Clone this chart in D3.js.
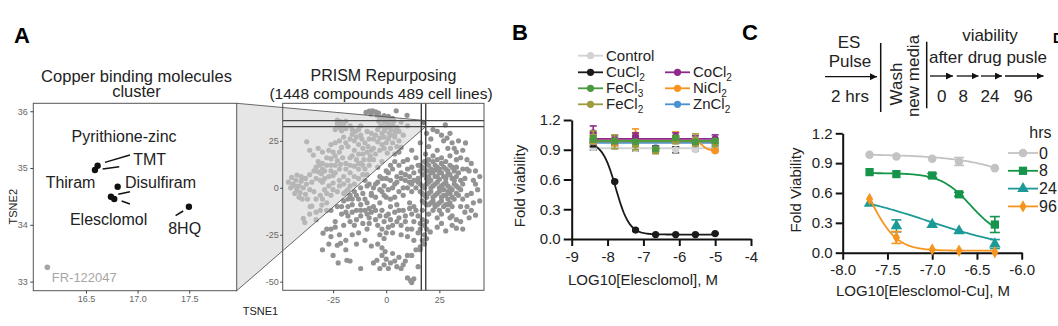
<!DOCTYPE html>
<html>
<head>
<meta charset="utf-8">
<script src="https://cdn.jsdelivr.net/npm/d3@7"></script>
<style>
  body { margin: 0; background: #fff; }
  svg { display: block; font-family: "Liberation Sans", Arial, Helvetica, sans-serif; }
</style>
</head>
<body>
<svg id="fig" width="1058" height="326"></svg>
<script>
// ---------- A: copper binding cluster (zoomed t-SNE) ----------
var cuNames = ["Pyrithione-zinc", "TMT", "Disulfiram", "Thiram", "Elesclomol", "8HQ", "FR-122047"];
var cuTsne1 = [16.613, 16.587, 16.807, 16.742, 16.774, 17.497, 16.126];
var cuTsne2 = [35.04, 34.965, 34.67, 34.495, 34.454, 34.319, 33.252];
var cuInCluster = [true, true, true, true, true, true, false];
var zoomTicksX = [16.5, 17.0, 17.5];
var zoomTicksY = [33, 34, 35, 36];

// ---------- A: PRISM repurposing t-SNE, [TSNE1, TSNE2] ----------
var prismEmbedding = [
  [-9.5,40.2],[-8,40.8],[-6.5,41],[-5,40.4],[-3.6,39.8],[-7.2,39.2],[-4.4,38.6],[4.7,41],[9.8,38.6],
  [-2,37.2],[0,36.6],[2,36.2],[-1,35],[1,34.2],[3,33.4],[-2.6,33],[0,32],[2.2,31],[1.4,29],[4,30.2],
  [-0.8,30.4],[3.6,35.6],[5,32],[-3.5,35.5],
  [-23,34],[-21.5,35.2],[-20,33.5],[-22,32],[-19,31.5],[-21,30.4],[-24,31],[-13,31],[-14.5,30],[-12,33],
  [-15,25],[-13,23],[-37.4,24.5],
  [-20,27],[-19,24],[-18,22],[-21,21.5],[-17,26],[-16,28.5],
  [-10,24],[-8.5,22],[-9,19],[-7.5,17],[-11,18],[-11.5,26],
  [-5,28],[-3,26.5],[-1,27],[-4,24.5],[0,24],[-2,23],[-6,21],[-3,20],
  [1,26],[3,24],[5,22],[2,21],[4,27],[6,25],[8,28],[7,21.5],[0.5,18.5],
  [-34.3,17.4],
  [-27,20],[-25,19],[-24,17],[-26,15.5],[-23,14.5],[-28,16],
  [-22,19],[-20.5,16],[-19,13],[-21.5,12.5],
  [-16,17],[-14,15],[-12,13],[-15,11.5],[-13,10],[-11,12],[-10.5,15],[-8,12],[-6,15],[-4,11],[-2,14],
  [-33,11],[-31.5,12],[-30,10],[-32,8.5],[-30.5,7.5],[-29,9],[-34,9],
  [-26,9],[-24,8],[-25,6.5],[-20,6],[-17,8],
  [-44,2],[-42.5,4],[-41,1],[-40,3.5],[-39,0],[-42,-1],[-40.5,-2.5],[-38,-3.5],[-43,-3],[-41,-5],
  [-37.5,2],[-45,0],[-44.5,5.5],[-42,6.8],[-39.5,-6],
  [-35.8,-10],[-34,-2],[-31,-4],[-29,-1],[-30,3],[-27,1],[-25,2.5],[-35,-9.8],[-30.3,-9.2],[-28,-8],
  [-39,-16.3],[-38.3,-18.5],[-33,-13],[-26,-4],[-23,-2],[-22,4],
  [-1,38.5],[1,38],[-3,37.5],[3,37],[2,33],[-1,32.5],[4,28],[6,30],[7,35],[10,33],[-21,33],[-23,36],
  [-19,35.5],[-17,33],[-16,31],[-12,28],[-14,27],[-8,26],[-6,26],[-7,29],[-9,30],[-2,29],[-4,31],[2,28],
  [6,19],[4,18],[-1,21],[-5,18],[-8,15],[-10,10],[-13,13],[-17,12],[-19,10],[-22,10],[-24,12],[-26,12],
  [-28,12],[-30,13],[-32,14],[-27,6],[-29,5],[-31,4],[-33,5],[-35,3],[-36,-1],[-37,-6],[-33,-6],[-30,-6],
  [-28,-3],[-25,-1],[-22,1],[-20,2],[-18,4],[-15,6],[-13,5],[-11,7],[-40,6],[-43,1],[-46,3],[-38,5],
  [-36,7],[-24,24],[-26,23],[-22,25],[-30,19],[-32,21],[-36,20],[-15,20],[-13,18],[-11,21],[-7,20],
  [-17,16],[-33,-17],[-36,-14],[-31,-12],[-28,-12],
  [16,12],[18,10],[20,12],[22,14],[24,11],[26,13],[28,10],[30,12],[32,9],
  [17,7],[19,5],[21,8],[23,6],[25,8],[27,6],[29,7],[31,5],[33,6],
  [16,2],[18,0],[20,3],[22,1],[24,3],[26,1],[28,3],[30,0],[32,2],[34,0],
  [17,-3],[19,-5],[21,-2],[23,-4],[25,-2],[27,-4],[29,-2],[31,-5],[33,-3],
  [18,-8],[20,-9],[22,-7],[24,-9],[26,-7],[28,-9],[30,-8],
  [19,9],[23,9.5],[27,2],[21,4],[25,4.5],[29,-6],[15,5],[14,0],[35,4],
  [17,11],[19,13],[21,10],[23,12],[25,10],[27,11],[29,9],[31,11],[33,11],
  [16,9],[18,7],[20,6],[22,8],[24,6],[26,8],[28,5],[30,7],[32,4],
  [15,3],[17,1],[19,2],[21,0],[23,2],[25,0],[27,-1],[29,1],[31,-1],[33,1],
  [16,-2],[18,-4],[20,-3],[22,-5],[24,-3],[26,-5],[28,-4],[30,-3],[32,-6],[34,-4],
  [17,-7],[19,-9],[21,-8],[23,-10],[25,-8],[27,-10],[29,-9],[31,-10],
  [20,15],[24,15],[28,14],[18,14],[35,-1],[36,2],[34,8],[36,10],[38,-4],
  [37,5],[40,-3],[42,2],[38,-10],[44,6],[36,-6],[41,-8],[39,9],[43,-1],
  [20,22],[24,20],[27,25],[30,17],[33,15],[22,17],[26,16],[29,21],[24,30],[27.8,33.5],[37.3,23.9],
  [28.6,26.5],[35,16],[38,10],[41,4],[31,24],[33,19],[18.5,18],[21,26],
  [19,29],[22,31],[26,28],[30,29],[34,25],[32,21],[36,20],[40,13],[42,9],[44,-7],[40,-12],[38,15],
  [1,8],[3,10],[5,6],[7,8],[9,4],[11,6],[4,2],[8,0],[12,2],[2,4],[6,12],[10,10],[13,8],[12,-2],[6,-2],[0,5],
  [12,20],[14,16],[15,12],[10,15],[16,24],
  [-9,1],[-5,2],[-3,-1],[-1,-4],[1,-1],[3,0],[5,3],[7,5],[9,7],[11,3],[13,4],[10,0],[8,-4],[4,-5],
  [-2,5],[0,9],[2,12],[4,14],[8,14],[12,11],
  [15,-15],[17,-17],[18,-20],[16,-22],[18,-25],[17,-28],[19,-18],[16,-19],[18,-30],[15,-24],[14,-12],
  [17,-12],[13,-18],[16,-33],[15,-42],[20.7,-23.5],[16,-31.5],
  [-19,-2],[-17,-4],[-15,-2],[-13,-6],[-11,-3],[-9,-8],[-16,-9],[-14,-12],[-12,-15],[-10,-12],[-8,-16],
  [-18,-10],[-7,-4],[-20,-7],[-6,-10],[-14,-17],[-15,2],[-12,0],[-17,1],
  [-18,-1],[-16,-6],[-14,-4],[-12,-9],[-10,-6],[-8,-11],[-16,-13],[-12,-12],[-18,-6],[-20,-3],[-21,-10],
  [-19,-13],[-17,-18],[-15,-20],[-11,-19],[-9,-14],
  [-10,4],[-8,2],[-6,0],[-4,3],[-2,-2],[-5,-5],[-3,-8],[-1,1],[-7,-3],[0,-5],[-9,7],[-3,6],
  [-5,-12],[-3,-15],[-1,-18],[1,-14],[3,-20],[-2,-22],[0,-24],[2,-10],[-4,-20],
  [-7,-13],[-5,-17],[-2,-12],[0,-15],[2,-17],[5,-18],[3,-24],[-1,-27],[1,-21],[-3,-25],[6,-12],[9,-15],
  [11,-11],[13,-10],[10,-26],[7,-25],
  [2,-6],[5,-9],[8,-12],[11,-8],[6,-16],[9,-18],[12,-14],[4,-13],[7,-20],[10,-22],
  [-29.7,-24.2],[-28,-22],[-23,-30.6],[-21.5,-29.6],[-19,-28],[-16,-25],[-13,-24],[-9,-22],[-8,-19],
  [-30,-33],[-22.6,-40],[-17,-39],[-12,-43],[-18.5,-38.6],[-24,-18],[-20,-20],[-26,-26],
  [-24,-21],[-26,-22],[-22,-25],[-19,-33],[-14,-30],[-10,-28],[-7,-31],[-4,-30],[-2,-32],[-27,-30],[-25,-36],
  [-4.4,-38.6],[-2,-36],[0,-38],[2,-40],[4,-39],[6,-37],[8,-41],[10,-36],[-1,-41],[3,-35],[-0.5,-34],
  [-6,-40],[5,-42],[1,-43],[7,-43],[-3,-43],[9,-39],[12,-36],[14,-33],[13,-28],[12,-22],
  [10,-48],[11.5,-49.5],[13,-48.5],[12,-50.5],
  [19,-22],[19,-27],[20,-14],[22,-12],[24,-21],[26,-19],[30,-16],[35,-18],[39,-16],[36,-22],
  [22,-8],[25,-12],[29,-12],[26,-14],[31,-15],[33,-17],[37,-13],[42,-14.6],[31,-20],[33,-21.5],
  [28,-23],[24,-16],[35,-10],
  [-26,-12],[-23,-10],[-21,-14],[-18,-15]
];
var cuClusterSpot = [17.6, 34.6];
var zoomBoxX = [16.5, 18.6];
var zoomBoxY = [32.6, 35.8];
var prismTicksX = [-25, 0, 25];
var prismTicksY = [-50, -25, 0, 25];

// ---------- B: elesclomol + metal salts ----------
var bDose = [-8.4, -7.8, -7.22, -6.66, -6.1, -5.55, -5.0];
var bControl = [0.92, 0.93, 0.91, 0.90, 0.90, 0.90, 0.90];
var bControlErr = [0.02, 0.01, 0.02, 0.01, 0.03, 0.01, 0.01];
var bCuCl2 = [0.97, 0.58, 0.09, 0.045, 0.045, 0.045, 0.055];
var bCuCl2Err = [0.04, 0.01, 0.01, 0.005, 0.005, 0.005, 0.005];
var bFeCl3 = [1.01, 0.99, 0.98, 0.91, 1.02, 0.98, 0.99];
var bFeCl3Err = [0.03, 0.02, 0.02, 0.02, 0.02, 0.02, 0.02];
var bFeCl2 = [1.03, 0.98, 0.95, 0.89, 1.00, 1.00, 0.97];
var bFeCl2Err = [0.06, 0.07, 0.05, 0.03, 0.04, 0.06, 0.04];
var bCoCl2 = [1.07, 1.00, 1.03, 0.91, 1.03, 1.00, 1.01];
var bCoCl2Err = [0.07, 0.04, 0.04, 0.03, 0.04, 0.04, 0.04];
var bNiCl2 = [1.00, 0.98, 1.05, 0.90, 1.03, 0.97, 0.89];
var bNiCl2Err = [0.04, 0.04, 0.06, 0.02, 0.05, 0.03, 0.01];
var bZnCl2 = [0.98, 0.97, 0.97, 0.92, 0.99, 0.96, 0.96];
var bZnCl2Err = [0.02, 0.02, 0.02, 0.02, 0.02, 0.02, 0.02];
// fitted curves: [top, bottom, logIC50, hill]
var bFits = {
  Control: [0.915, 0.915, -6, 1],
  CuCl2: [0.98, 0.045, -7.77, 2.3],
  FeCl3: [0.99, 0.99, -6, 1],
  FeCl2: [0.985, 0.985, -6, 1],
  CoCl2: [1.01, 1.01, -6, 1],
  NiCl2: [0.995, 0.89, -5.35, 5],
  ZnCl2: [0.97, 0.97, -6, 1]
};
var bTicksX = [-9, -8, -7, -6, -5, -4];
var bTicksY = [0, 0.3, 0.6, 0.9, 1.2];

// ---------- C: Elesclomol-Cu pulse ----------
var cDose = [-7.7, -7.4, -7.0, -6.7, -6.3];
var cHrs = ["0", "8", "24", "96"];
var c0h = [0.985, 0.967, 0.945, 0.917, 0.85];
var c0hErr = [0.01, 0.01, 0.01, 0.04, 0.01];
var c8h = [0.81, 0.79, 0.776, 0.587, 0.283];
var c8hErr = [0.01, 0.01, 0.02, 0.02, 0.08];
var c24h = [0.495, 0.27, 0.283, 0.22, 0.087];
var c24hErr = [0.01, 0.06, 0.01, 0.01, 0.045];
var c96h = [0.54, 0.153, 0.033, 0.02, 0.005];
var c96hErr = [0.01, 0.06, 0.01, 0.005, 0.005];
var cFits = [
  [0.99, 0, -5.5, 1],
  [0.8, 0.15, -6.57, 2.6],
  [0.64, 0, -7.05, 0.8],
  [1.0, 0.02, -7.68, 3]
];
var cTicksX = [-8, -7.5, -7, -6.5, -6];
var cTicksY = [0, 0.3, 0.6, 0.9, 1.2];
var pulseTimes = ["0", "8", "24", "96"];

var svg = d3.select("#fig");

function fourPL(p) {
  return function(x) { return p[1] + (p[0] - p[1]) / (1 + Math.pow(10, (x - p[2]) * p[3])); };
}

function panelLetter(t, x, y, size) {
  svg.append("text").attr("x", x).attr("y", y)
    .style("font-size", (size || 22) + "px").style("font-weight", "bold").text(t);
}

panelLetter("A", 14, 42.7);
panelLetter("B", 512, 40);
panelLetter("C", 742, 40);
panelLetter("D", 1053, 43, 14);

// ===== A, right: PRISM embedding =====
var xS = d3.scaleLinear().domain([-48.7, 46]).range([282.7, 484]);
var yS = d3.scaleLinear().domain([-54.6, 45]).range([290.3, 103.3]);
var xA = d3.scaleLinear().domain([15.99, 17.96]).range([33.3, 236.7]);
var yA = d3.scaleLinear().domain([32.84, 36.14]).range([290.7, 103.3]);

var gS = svg.append("g");
gS.append("rect").attr("x", 282.7).attr("y", 103.3).attr("width", 201.3).attr("height", 187)
  .attr("fill", "#fff");
gS.append("g").selectAll("circle").data(prismEmbedding).join("circle")
  .attr("cx", function(d) { return xS(d[0]); })
  .attr("cy", function(d) { return yS(d[1]); })
  .attr("r", 2.6)
  .attr("fill", "#939393");
gS.append("circle").attr("cx", xS(cuClusterSpot[0])).attr("cy", yS(cuClusterSpot[1]))
  .attr("r", 2.4).attr("fill", "#111");

// wedge linking the zoomed panel to its spot in the full map
var wedge = [
  [xA.range()[1], yA.range()[1]],
  [xS(zoomBoxX[1]), yS(zoomBoxY[1])],
  [xS(zoomBoxX[1]), yS(zoomBoxY[0])],
  [xA.range()[1], yA.range()[0]]
];
svg.append("path").attr("d", "M" + wedge.join("L") + "Z")
  .attr("fill", "rgb(210,210,210)").attr("fill-opacity", 0.56).attr("stroke", "none");
svg.append("path").attr("d", "M" + wedge[0] + "L" + wedge[1] + "M" + wedge[2] + "L" + wedge[3])
  .attr("fill", "none").attr("stroke", "#444").attr("stroke-width", 0.8);

zoomBoxX.forEach(function(v) {
  svg.append("line").attr("x1", xS(v)).attr("x2", xS(v)).attr("y1", 103.3).attr("y2", 290.3)
    .attr("stroke", "#333").attr("stroke-width", 1.3);
});
zoomBoxY.forEach(function(v) {
  svg.append("line").attr("x1", 282.7).attr("x2", 484).attr("y1", yS(v)).attr("y2", yS(v))
    .attr("stroke", "#444").attr("stroke-width", 1.3);
});
svg.append("rect").attr("x", 282.7).attr("y", 103.3).attr("width", 201.3).attr("height", 187)
  .attr("fill", "none").attr("stroke", "#555").attr("stroke-width", 1);

function ggAxis(g) {
  g.select(".domain").remove();
  g.selectAll(".tick line").attr("stroke", "#444");
  g.selectAll(".tick text").attr("fill", "#666").style("font-size", "9px");
}

svg.append("g").attr("transform", "translate(0,290.3)")
  .call(d3.axisBottom(xS).tickValues(prismTicksX).tickSize(3).tickPadding(3).tickFormat(function(d) { return String(d); }))
  .call(ggAxis);
svg.append("g").attr("transform", "translate(282.7,0)")
  .call(d3.axisLeft(yS).tickValues(prismTicksY).tickSize(2.5).tickPadding(1.5).tickFormat(function(d) { return String(d); }))
  .call(ggAxis);

svg.append("text").attr("x", 383.4).attr("y", 80.7).attr("text-anchor", "middle")
  .style("font-size", "16px").attr("fill", "#222").text("PRISM Repurposing");
svg.append("text").attr("x", 381).attr("y", 99.3).attr("text-anchor", "middle")
  .style("font-size", "15.5px").attr("fill", "#222").text("(1448 compounds 489 cell lines)");
svg.append("text").attr("x", 260.5).attr("y", 315).attr("text-anchor", "middle")
  .style("font-size", "11px").attr("fill", "#222").text("TSNE1");

// ===== A, left: zoomed copper cluster =====
var gA = svg.append("g");
gA.append("rect").attr("x", 33.3).attr("y", 103.3).attr("width", 203.4).attr("height", 187.4)
  .attr("fill", "#fff").attr("stroke", "#555").attr("stroke-width", 1);
svg.append("g").attr("transform", "translate(0,290.7)")
  .call(d3.axisBottom(xA).tickValues(zoomTicksX).tickSize(3).tickPadding(2).tickFormat(d3.format(".1f")))
  .call(ggAxis);
svg.append("g").attr("transform", "translate(33.3,0)")
  .call(d3.axisLeft(yA).tickValues(zoomTicksY).tickSize(3).tickPadding(2.5).tickFormat(function(d) { return String(d); }))
  .call(ggAxis);

svg.append("text").attr("transform", "translate(16.7,206.7) rotate(-90)").attr("text-anchor", "middle")
  .style("font-size", "11px").attr("fill", "#222").text("TSNE2");
svg.append("text").attr("x", 136.5).attr("y", 82).attr("text-anchor", "middle")
  .style("font-size", "16.5px").attr("fill", "#222").text("Copper binding molecules");
svg.append("text").attr("x", 136.5).attr("y", 97.3).attr("text-anchor", "middle")
  .style("font-size", "16.5px").attr("fill", "#222").text("cluster");

// repelled label placement, pixel offsets from each point
var cuLabelOffset = [[-26, -23.7], [38.3, -5], [7.3, 1.6], [-65.3, -8.4], [-44.3, 26], [-20.7, 27.6], [4.4, 14.4]];
var cuSegment = [[7.3, -3.4, 32.3, -10.7], [7.7, -1, 24.3, -3.3], null, [7.3, -2.4, 19, -5], [7.4, 2, 15.7, 5], [-13.3, 9, -5.7, 4.3], null];

cuNames.forEach(function(name, i) {
  var px = xA(cuTsne1[i]), py = yA(cuTsne2[i]);
  var col = cuInCluster[i] ? "#111" : "#a6a6a6";
  var s = cuSegment[i];
  if (s) {
    gA.append("line").attr("x1", px + s[0]).attr("y1", py + s[1]).attr("x2", px + s[2]).attr("y2", py + s[3])
      .attr("stroke", "#111").attr("stroke-width", 1.5);
  }
  gA.append("circle").attr("cx", px).attr("cy", py).attr("r", cuInCluster[i] ? 3.2 : 2.8).attr("fill", col);
  gA.append("text").attr("x", px + cuLabelOffset[i][0]).attr("y", py + cuLabelOffset[i][1])
    .style("font-size", cuInCluster[i] ? "16px" : "13px").attr("fill", cuInCluster[i] ? "#222" : "#a6a6a6")
    .text(name);
});

// ===== B: dose response with metal salts =====
var xB = d3.scaleLinear().domain([-9, -4]).range([571.7, 751]);
var yB = d3.scaleLinear().domain([0, 1.2]).range([239, 120]);

function prismAxis(g, size) {
  g.select(".domain").attr("stroke", "#111").attr("stroke-width", 2);
  g.selectAll(".tick line").attr("stroke", "#111").attr("stroke-width", 2);
  g.selectAll(".tick text").attr("fill", "#222").style("font-size", size + "px");
}

svg.append("g").attr("transform", "translate(0,239)")
  .call(d3.axisBottom(xB).tickValues(bTicksX).tickSize(7).tickSizeOuter(0).tickPadding(5).tickFormat(function(d) { return String(d); }))
  .call(prismAxis, 15);
svg.append("g").attr("transform", "translate(571.7,0)")
  .call(d3.axisLeft(yB).tickValues(bTicksY).tickSize(8).tickSizeOuter(0).tickPadding(3).tickFormat(d3.format(".1f")))
  .call(prismAxis, 15);
svg.append("text").attr("x", 643).attr("y", 285).attr("text-anchor", "middle")
  .style("font-size", "15px").attr("fill", "#222").text("LOG10[Elesclomol], M");
svg.append("text").attr("transform", "translate(525,186) rotate(-90)").attr("text-anchor", "middle")
  .style("font-size", "15px").attr("fill", "#222").text("Fold viability");

var bSeries = [
  { name: "Control", v: bControl, e: bControlErr, color: "#d2d2d2", err: "#333" },
  { name: "CuCl2", v: bCuCl2, e: bCuCl2Err, color: "#1a1a1a" },
  { name: "ZnCl2", v: bZnCl2, e: bZnCl2Err, color: "#4b91cf" },
  { name: "NiCl2", v: bNiCl2, e: bNiCl2Err, color: "#f7931e" },
  { name: "CoCl2", v: bCoCl2, e: bCoCl2Err, color: "#8b2a8b" },
  { name: "FeCl2", v: bFeCl2, e: bFeCl2Err, color: "#9c9c3c" },
  { name: "FeCl3", v: bFeCl3, e: bFeCl3Err, color: "#4b9a3f" }
];
var bCurveX = d3.range(101).map(function(i) { return bDose[0] + (bDose[bDose.length - 1] - bDose[0]) * i / 100; });
var gB = svg.append("g");
bSeries.forEach(function(s) {
  var f = fourPL(bFits[s.name]);
  gB.append("path").datum(bCurveX)
    .attr("d", d3.line().x(function(d) { return xB(d); }).y(function(d) { return yB(f(d)); }))
    .attr("fill", "none").attr("stroke", s.color).attr("stroke-width", 1.8);
});
bSeries.forEach(function(s) {
  var g = gB.append("g").attr("stroke", s.err || s.color).attr("stroke-width", 1.6);
  bDose.forEach(function(x, i) {
    var cx = xB(x), hi = yB(s.v[i] + s.e[i]), lo = yB(s.v[i] - s.e[i]);
    g.append("line").attr("x1", cx).attr("x2", cx).attr("y1", hi).attr("y2", lo);
    g.append("line").attr("x1", cx - 3.5).attr("x2", cx + 3.5).attr("y1", hi).attr("y2", hi);
    g.append("line").attr("x1", cx - 3.5).attr("x2", cx + 3.5).attr("y1", lo).attr("y2", lo);
  });
  gB.append("g").selectAll("circle").data(s.v).join("circle")
    .attr("cx", function(d, i) { return xB(bDose[i]); })
    .attr("cy", function(d) { return yB(d); })
    .attr("r", 3.6).attr("fill", s.color);
});

// legend: two columns
var bLegendPos = {
  Control: [578, 55.7], CuCl2: [578, 72.3], FeCl3: [578, 88.3], FeCl2: [578, 104.3],
  CoCl2: [665, 72.3], NiCl2: [665, 88.3], ZnCl2: [665, 104.3]
};
bSeries.forEach(function(s) {
  var p = bLegendPos[s.name];
  var lg = svg.append("g").attr("transform", "translate(" + p[0] + "," + p[1] + ")");
  lg.append("line").attr("x1", 0).attr("x2", 25).attr("stroke", s.color).attr("stroke-width", 1.8);
  lg.append("circle").attr("cx", 12.5).attr("r", 3.6).attr("fill", s.color);
  var t = lg.append("text").attr("x", 28).attr("y", 5).style("font-size", "15px").attr("fill", "#222");
  var m = s.name.match(/^(.*?)(\d)$/);
  if (m) {
    t.append("tspan").text(m[1]);
    t.append("tspan").attr("dy", 3.5).style("font-size", "10px").text(m[2]);
  } else {
    t.text(s.name);
  }
});

// ===== C: pulse schematic =====
var defs = svg.append("defs");
defs.append("marker").attr("id", "head").attr("viewBox", "0 0 10 10").attr("refX", 10).attr("refY", 5)
  .attr("markerWidth", 7).attr("markerHeight", 7).attr("markerUnits", "userSpaceOnUse").attr("orient", "auto")
  .append("path").attr("d", "M0,0L10,5L0,10Z").attr("fill", "#111");

var gT = svg.append("g").style("font-size", "17px").attr("fill", "#222");
gT.append("text").attr("x", 849).attr("y", 48.3).attr("text-anchor", "middle").text("ES");
gT.append("text").attr("x", 850).attr("y", 66.7).attr("text-anchor", "middle").text("Pulse");
gT.append("text").attr("x", 850).attr("y", 102).attr("text-anchor", "middle").text("2 hrs");
gT.append("line").attr("x1", 825).attr("x2", 877).attr("y1", 76.7).attr("y2", 76.7)
  .attr("stroke", "#111").attr("stroke-width", 1.3).attr("marker-end", "url(#head)");
gT.append("line").attr("x1", 880.7).attr("x2", 880.7).attr("y1", 43).attr("y2", 112)
  .attr("stroke", "#111").attr("stroke-width", 1.5);
gT.append("text").attr("transform", "translate(902,84) rotate(-90)").attr("text-anchor", "middle").text("Wash");
gT.append("text").attr("transform", "translate(919,76) rotate(-90)").attr("text-anchor", "middle").text("new media");
gT.append("line").attr("x1", 926.7).attr("x2", 926.7).attr("y1", 41.7).attr("y2", 108.3)
  .attr("stroke", "#111").attr("stroke-width", 1.5);
gT.append("text").attr("x", 990).attr("y", 41).attr("text-anchor", "middle").text("viability");
gT.append("text").attr("x", 988).attr("y", 63.3).attr("text-anchor", "middle").text("after drug pusle");
var pulseArrows = [[930, 953], [956.7, 978.5], [981, 1002], [1005, 1043.5]];
var pulseLabelX = [941.7, 963.3, 990, 1023.3];
pulseTimes.forEach(function(t, i) {
  gT.append("line").attr("x1", pulseArrows[i][0]).attr("x2", pulseArrows[i][1]).attr("y1", 76).attr("y2", 76)
    .attr("stroke", "#111").attr("stroke-width", 1.3).attr("marker-end", "url(#head)");
  gT.append("text").attr("x", pulseLabelX[i]).attr("y", 102).attr("text-anchor", "middle").text(t);
});

// ===== C: viability after Elesclomol-Cu pulse =====
var xC = d3.scaleLinear().domain([-8, -6]).range([842.7, 1021.7]);
var yC = d3.scaleLinear().domain([0, 1.2]).range([252.7, 133.3]);

svg.append("g").attr("transform", "translate(0,252.7)")
  .call(d3.axisBottom(xC).tickValues(cTicksX).tickSize(7).tickSizeOuter(0).tickPadding(5).tickFormat(function(d) { return d.toFixed(1); }))
  .call(prismAxis, 15);
svg.append("g").attr("transform", "translate(842.7,0)")
  .call(d3.axisLeft(yC).tickValues(cTicksY).tickSize(7).tickSizeOuter(0).tickPadding(3).tickFormat(d3.format(".1f")))
  .call(prismAxis, 15);
svg.append("text").attr("x", 923).attr("y", 296).attr("text-anchor", "middle")
  .style("font-size", "15px").attr("fill", "#222").text("LOG10[Elesclomol-Cu], M");
svg.append("text").attr("transform", "translate(801,190) rotate(-90)").attr("text-anchor", "middle")
  .style("font-size", "15px").attr("fill", "#222").text("Fold Viability");

var cSeries = [
  { v: c0h, e: c0hErr, color: "#c3c3c3", sym: d3.symbolCircle, size: 58 },
  { v: c8h, e: c8hErr, color: "#15944a", sym: d3.symbolSquare, size: 68 },
  { v: c24h, e: c24hErr, color: "#1c9a97", sym: d3.symbolTriangle, size: 58 },
  { v: c96h, e: c96hErr, color: "#f7941d", sym: d3.symbolDiamond, size: 44 }
];
var gC = svg.append("g");
cSeries.forEach(function(s, k) {
  var f = fourPL(cFits[k]);
  var xs = d3.range(81).map(function(i) { return cDose[0] + (cDose[cDose.length - 1] - cDose[0]) * i / 80; });
  gC.append("path").datum(xs)
    .attr("d", d3.line().x(function(d) { return xC(d); }).y(function(d) { return yC(f(d)); }))
    .attr("fill", "none").attr("stroke", s.color).attr("stroke-width", 1.8);
  var g = gC.append("g").attr("stroke", s.color).attr("stroke-width", 1.6);
  cDose.forEach(function(x, i) {
    if (s.e[i] < 0.02) return;
    var cx = xC(x), hi = yC(s.v[i] + s.e[i]), lo = yC(Math.max(0, s.v[i] - s.e[i]));
    g.append("line").attr("x1", cx).attr("x2", cx).attr("y1", hi).attr("y2", lo);
    g.append("line").attr("x1", cx - 5).attr("x2", cx + 5).attr("y1", hi).attr("y2", hi);
    g.append("line").attr("x1", cx - 5).attr("x2", cx + 5).attr("y1", lo).attr("y2", lo);
  });
  gC.append("g").selectAll("path").data(s.v).join("path")
    .attr("transform", function(d, i) { return "translate(" + xC(cDose[i]) + "," + yC(d) + ")"; })
    .attr("d", d3.symbol().type(s.sym).size(s.size))
    .attr("fill", s.color);
});

svg.append("text").attr("x", 1029.3).attr("y", 138.3).style("font-size", "16px").attr("fill", "#222").text("hrs");
cHrs.forEach(function(h, i) {
  var s = cSeries[i];
  var lg = svg.append("g").attr("transform", "translate(1008," + (153 + i * 17.8) + ")");
  lg.append("line").attr("x1", 0).attr("x2", 30).attr("stroke", s.color).attr("stroke-width", 1.8);
  lg.append("path").attr("transform", "translate(15,0)").attr("d", d3.symbol().type(s.sym).size(s.size)).attr("fill", s.color);
  lg.append("text").attr("x", 31).attr("y", 5.5).style("font-size", "16px").attr("fill", "#222").text(h);
});
</script>
</body>
</html>
